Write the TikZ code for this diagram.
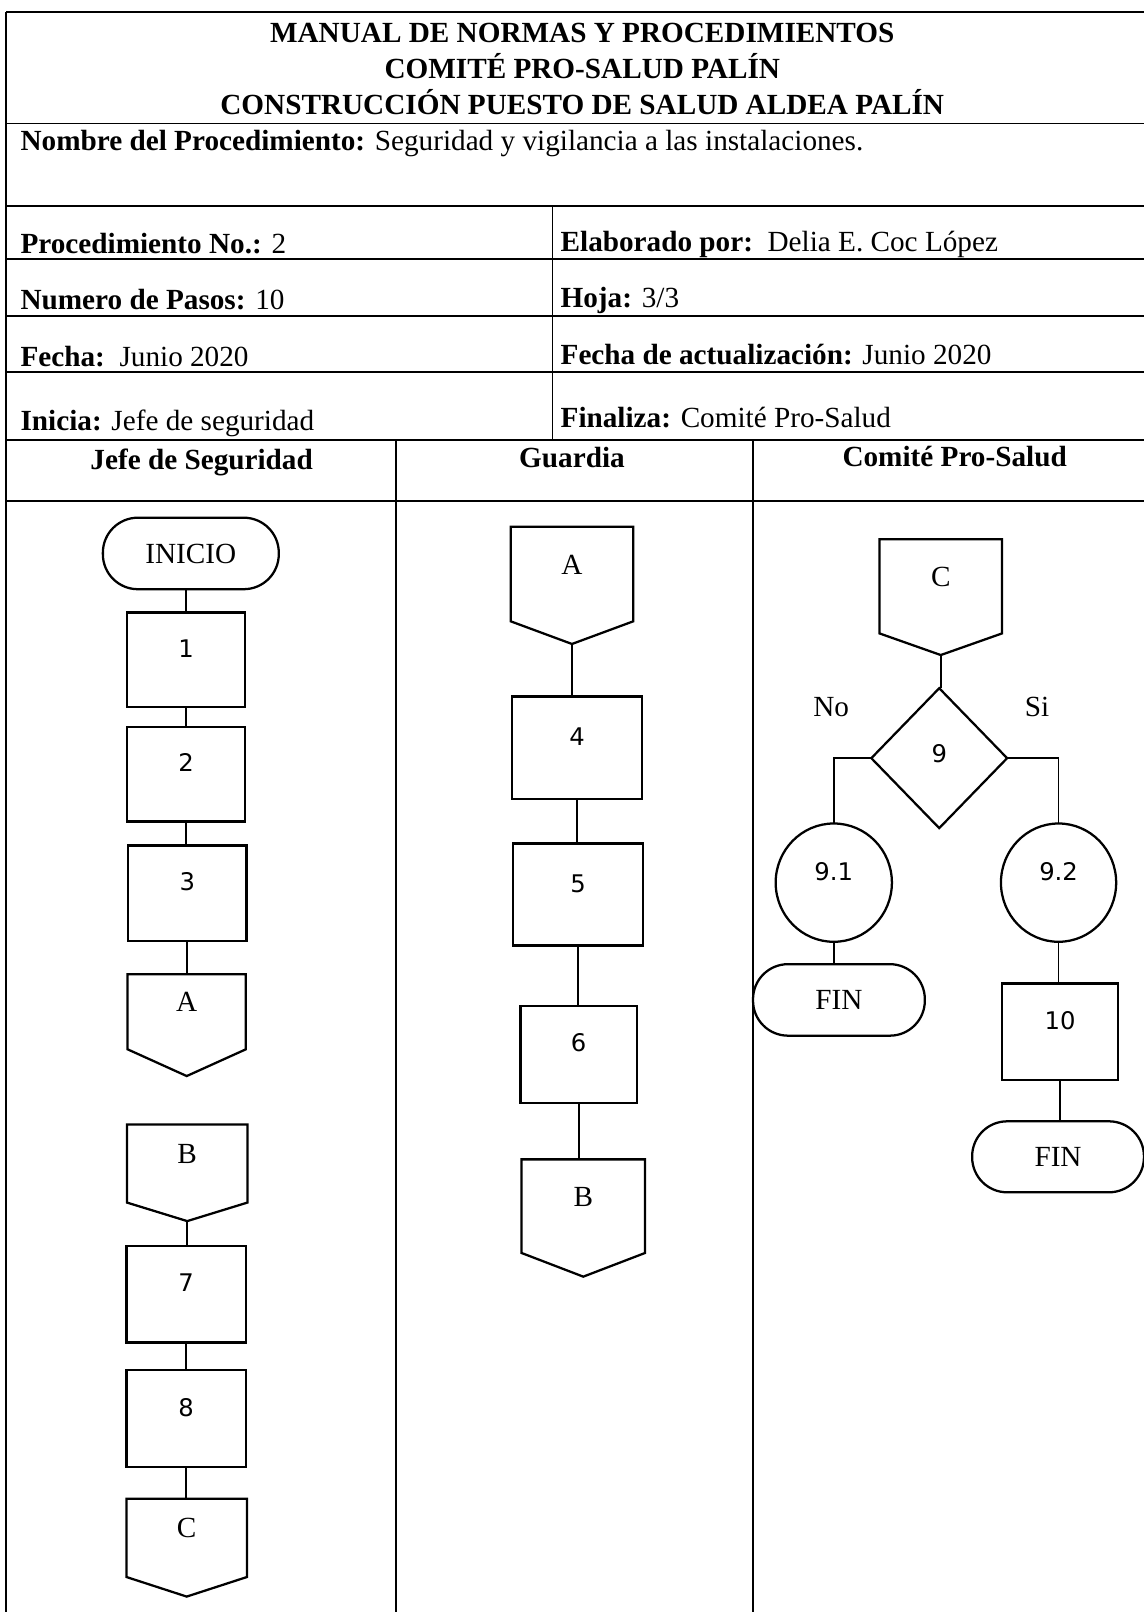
\documentclass[tikz,border=0pt]{standalone}
\usepackage{fontspec}
\setmainfont{Liberation Serif}
\newfontfamily\digitfont{DejaVu Sans}
\usetikzlibrary{shapes.geometric}
\tikzset{
  tbl/.style={line width=0.9pt},
  shp/.style={draw, line width=1.1pt},
  conn/.style={line width=0.9pt},
  txt/.style={inner sep=0pt, outer sep=0pt, font=\fontsize{14.2}{17}\selectfont},
  proc/.style={shp, rectangle, inner sep=0pt, outer sep=0pt, font=\digitfont\fontsize{11.8}{14}\selectfont, text height=8.6pt, text depth=11pt},
  circ/.style={shp, ellipse, inner sep=0pt, outer sep=0pt, font=\digitfont\fontsize{11.8}{14}\selectfont, text height=8.6pt, text depth=11pt},
  dec/.style={shp, diamond, inner sep=0pt, outer sep=0pt, font=\digitfont\fontsize{11.8}{14}\selectfont, text height=8.6pt, text depth=4.5pt},
  term/.style={shp, rectangle, rounded corners=17pt, inner sep=0pt, outer sep=0pt, font=\fontsize{14.2}{17}\selectfont, text height=9.4pt, text depth=0pt},
  offpg/.style={rectangle, draw=none, inner sep=0pt, outer sep=0pt, font=\fontsize{14.2}{17}\selectfont, text height=9.4pt, text depth=9.4pt},
}
\newcommand{\offdraw}[2]{\draw[shp] (#1.north west) -- (#1.north east) -- (#1.south east) -- ([yshift=-#2pt]#1.south) coordinate (#1t) -- (#1.south west) -- cycle;}
\begin{document}
\begin{tikzpicture}[x=0.5pt,y=-0.5pt]
\useasboundingbox (0,0) rectangle (1112,1567);
% table frame
\draw[tbl] (6,12) -- (1112,12);
\draw[tbl] (6,12) -- (6,1567);
\draw[tbl] (6,120) -- (1112,120);
\draw[tbl] (6,200) -- (1112,200);
\draw[tbl] (6,252) -- (1112,252);
\draw[tbl] (6,307) -- (1112,307);
\draw[tbl] (6,362) -- (1112,362);
\draw[tbl] (6,428) -- (1112,428);
\draw[tbl] (6,487) -- (1112,487);
\draw[tbl] (537,200) -- (537,428);
\draw[tbl] (385,428) -- (385,1567);
\draw[tbl] (732,428) -- (732,1567);
% header texts
\node[txt, anchor=base] (t1) at (566,41) {\bfseries MANUAL DE NORMAS Y PROCEDIMIENTOS};
\node[txt, anchor=base] (t2) at (566,76) {\bfseries COMITÉ PRO-SALUD PALÍN};
\node[txt, anchor=base] (t3) at (566,111) {\bfseries CONSTRUCCIÓN PUESTO DE SALUD ALDEA PALÍN};
\node[txt, anchor=base west] (nom) at (20,146) {\textbf{Nombre del Procedimiento:} Seguridad y vigilancia a las instalaciones.};
\node[txt, anchor=base west] (pno) at (20,246) {\textbf{Procedimiento No.:} 2};
\node[txt, anchor=base west] (ela) at (545,244) {\textbf{Elaborado por:}\ \ Delia E. Coc López};
\node[txt, anchor=base west] (npa) at (20,301) {\textbf{Numero de Pasos:} 10};
\node[txt, anchor=base west] (hoj) at (545,299) {\textbf{Hoja:} 3/3};
\node[txt, anchor=base west] (fec) at (20,356) {\textbf{Fecha:}\ \ Junio 2020};
\node[txt, anchor=base west] (fac) at (545,354) {\textbf{Fecha de actualización:} Junio 2020};
\node[txt, anchor=base west] (ini0) at (20,418) {\textbf{Inicia:} Jefe de seguridad};
\node[txt, anchor=base west] (fin0) at (545,416) {\textbf{Finaliza:} Comité Pro-Salud};
\node[txt, anchor=base] (h1) at (196,456) {\bfseries Jefe de Seguridad};
\node[txt, anchor=base] (h2) at (556,454) {\bfseries Guardia};
\node[txt, anchor=base] (h3) at (928,453) {\bfseries Comité Pro-Salud};
% lane 1
\node[term, minimum width=85.5pt, minimum height=34.75pt] (ini) at (185.5,538) {INICIO};
\node[proc, minimum width=57.5pt, minimum height=46pt] (p1) at (181,641.5) {1};
\node[proc, minimum width=57.5pt, minimum height=46pt] (p2) at (181,752.5) {2};
\node[proc, minimum width=57.5pt, minimum height=46.5pt] (p3) at (182,868.5) {3};
\node[offpg, minimum width=57.5pt, minimum height=36.5pt] (oA1) at (181.5,983.5) {A};
\offdraw{oA1}{13}
\node[offpg, minimum width=58.5pt, minimum height=38pt] (oB1) at (182,1131) {B};
\offdraw{oB1}{9}
\node[proc, minimum width=58pt, minimum height=47pt] (p7) at (181,1258) {7};
\node[proc, minimum width=58pt, minimum height=47pt] (p8) at (181,1379) {8};
\node[offpg, minimum width=58.5pt, minimum height=38pt] (oC1) at (181.5,1495) {C};
\offdraw{oC1}{9.5}
\draw[conn] (ini.south -| p1.north) -- (p1.north);
\draw[conn] (p1.south) -- (p1.south |- p2.north);
\draw[conn] (p2.south) -- (p2.south |- p3.north);
\draw[conn] (p3.south) -- (p3.south |- oA1.north);
\draw[conn] (oB1t) -- (oB1t |- p7.north);
\draw[conn] (p7.south) -- (p7.south |- p8.north);
\draw[conn] (p8.south) -- (p8.south |- oC1.north);
% lane 2
\node[offpg, minimum width=59.5pt, minimum height=46pt] (oA2) at (556,558) {A};
\offdraw{oA2}{11}
\node[proc, minimum width=63pt, minimum height=50pt] (p4) at (561,727) {4};
\node[proc, minimum width=63.25pt, minimum height=49.5pt] (p5) at (562,869.5) {5};
\node[proc, minimum width=56.5pt, minimum height=47pt] (p6) at (562.5,1025) {6};
\node[offpg, minimum width=60pt, minimum height=45.5pt] (oB2) at (567,1172.5) {B};
\offdraw{oB2}{11.5}
\draw[conn] (oA2t) -- (oA2t |- p4.north);
\draw[conn] (p4.south) -- (p4.south |- p5.north);
\draw[conn] (p5.south) -- (p5.south |- p6.north);
\draw[conn] (p6.south) -- (p6.south |- oB2.north);
% lane 3
\node[offpg, minimum width=59.5pt, minimum height=45.75pt] (oC3) at (914.5,570) {C};
\offdraw{oC3}{10.5}
\node[dec, minimum width=66pt, minimum height=68pt] (d9) at (913,737) {9};
\node[circ, minimum width=56.5pt, minimum height=57.5pt] (c91) at (810.5,858) {9.1};
\node[circ, minimum width=56pt, minimum height=57.5pt] (c92) at (1029,858) {9.2};
\node[term, minimum width=83.5pt, minimum height=34.75pt] (fin1) at (815.5,972) {FIN};
\node[proc, minimum width=56.5pt, minimum height=47pt] (p10) at (1030.5,1003) {10};
\node[term, minimum width=83.5pt, minimum height=34.5pt] (fin2) at (1028.5,1124.5) {FIN};
\node[txt] (no) at (808,687) {No};
\node[txt] (si) at (1008,687) {Si};
\draw[conn] (oC3t) -- (oC3t |- d9.north);
\draw[conn] (d9.west) -| (c91.north);
\draw[conn] (d9.east) -| (c92.north);
\draw[conn] (c91.south) -- (c91.south |- fin1.north);
\draw[conn] (c92.south) -- (c92.south |- p10.north);
\draw[conn] (p10.south) -- (p10.south |- fin2.north);
\end{tikzpicture}
\end{document}
